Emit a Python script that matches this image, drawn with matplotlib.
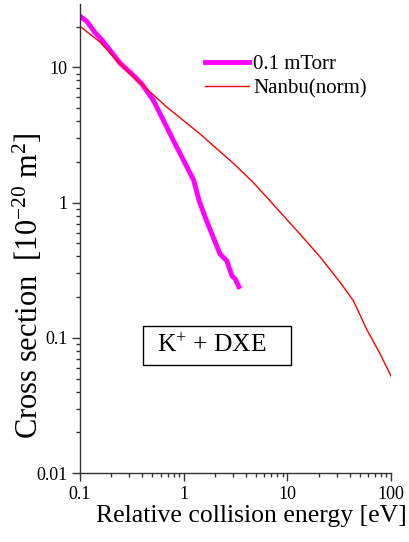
import numpy as np
import matplotlib
matplotlib.use('Agg')
import matplotlib.pyplot as plt
from matplotlib.patches import Rectangle
from matplotlib.ticker import LogLocator, NullFormatter, FixedFormatter, FixedLocator

plt.rcParams['font.family'] = ['Liberation Serif', 'DejaVu Serif']
plt.rcParams['mathtext.fontset'] = 'custom'
plt.rcParams['mathtext.rm'] = 'Liberation Serif'
plt.rcParams['mathtext.it'] = 'Liberation Serif:italic'

# measured cross section, 0.1 mTorr
meas_E = [0.1, 0.1176, 0.1395, 0.162, 0.1947, 0.243, 0.3265, 0.393, 0.51, 0.688,
          0.795, 1.0, 1.25, 1.41, 1.66, 1.93, 2.24, 2.60, 2.92, 3.15, 3.40]
meas_sigma = [23.9, 21.7, 18.1, 16.0, 13.4, 10.76, 8.73, 7.57, 5.7, 3.61,
              2.88, 2.05, 1.46, 1.03, 0.736, 0.553, 0.417, 0.372, 0.288, 0.272, 0.239]

# Nanbu model, normalised
nanbu_E = [0.1, 0.156, 0.243, 0.405, 0.688, 1.43, 3.04, 4.68, 6.8, 13.2,
           20.8, 32.3, 43.3, 58, 78.7, 100]
nanbu_sigma = [20.1, 15.4, 10.6, 7.35, 5.08, 3.23, 1.94, 1.41, 1.03, 0.586,
               0.394, 0.257, 0.188, 0.116, 0.0757, 0.052]

fig = plt.figure(figsize=(4.10, 5.42), dpi=100)
ax = fig.add_axes([0.195, 0.127, 0.759, 0.866])

ax.plot(meas_E, meas_sigma, color='#ff00ff', lw=3.5, label='0.1 mTorr')
ax.plot(nanbu_E, nanbu_sigma, color='red', lw=1.0, label='Nanbu(norm)')

ax.set_xscale('log')
ax.set_yscale('log')
ax.set_xlim(0.1, 100)
ax.set_ylim(0.01, 29.5)

for s in ['top', 'right']:
    ax.spines[s].set_visible(False)
for s in ['left', 'bottom']:
    ax.spines[s].set_linewidth(1.0)
    ax.spines[s].set_color('#333333')

ax.xaxis.set_major_locator(FixedLocator([0.1, 1, 10, 100]))
ax.xaxis.set_major_formatter(FixedFormatter(['0.1', '1', '10', '100']))
ax.yaxis.set_major_locator(FixedLocator([0.01, 0.1, 1, 10]))
ax.yaxis.set_major_formatter(FixedFormatter(['0.01', '0.1', '1', '10']))
ax.xaxis.set_minor_locator(LogLocator(base=10, subs=np.arange(2, 10), numticks=20))
ax.yaxis.set_minor_locator(LogLocator(base=10, subs=np.arange(2, 10), numticks=20))
ax.xaxis.set_minor_formatter(NullFormatter())
ax.yaxis.set_minor_formatter(NullFormatter())
ax.tick_params(which='major', direction='out', length=6, width=1, labelsize=13, color='#333333')
ax.tick_params(which='minor', direction='out', length=3, width=1, color='#333333')
ax.tick_params(axis='y', pad=3)

ax.set_xlabel('Relative collision energy [eV]', fontsize=18.5, ha='right')
ax.xaxis.set_label_coords(1.051, -0.068)
ax.set_ylabel(r'Cross section  [10$^{-20}$ m$^{2}$]', fontsize=22, va='center')
ax.yaxis.set_label_coords(-0.165, 0.40)

ax.legend(loc='center left', bbox_to_anchor=(0.402, 0.845), frameon=False, fontsize=15,
          handlelength=2.1, handletextpad=0.2, labelspacing=0.25,
          borderpad=0, borderaxespad=0)

# reaction label in a framed box
ax.add_patch(Rectangle((0.2026, 0.2303), 0.4754, 0.0831, transform=ax.transAxes,
                       fc='white', ec='black', lw=1, zorder=3))
ax.text(0.2476, 0.2718, r'K$^{+}$ + DXE', fontsize=18.4, ha='left', va='center',
        transform=ax.transAxes, zorder=4)

fig.savefig('out.png', dpi=100)
